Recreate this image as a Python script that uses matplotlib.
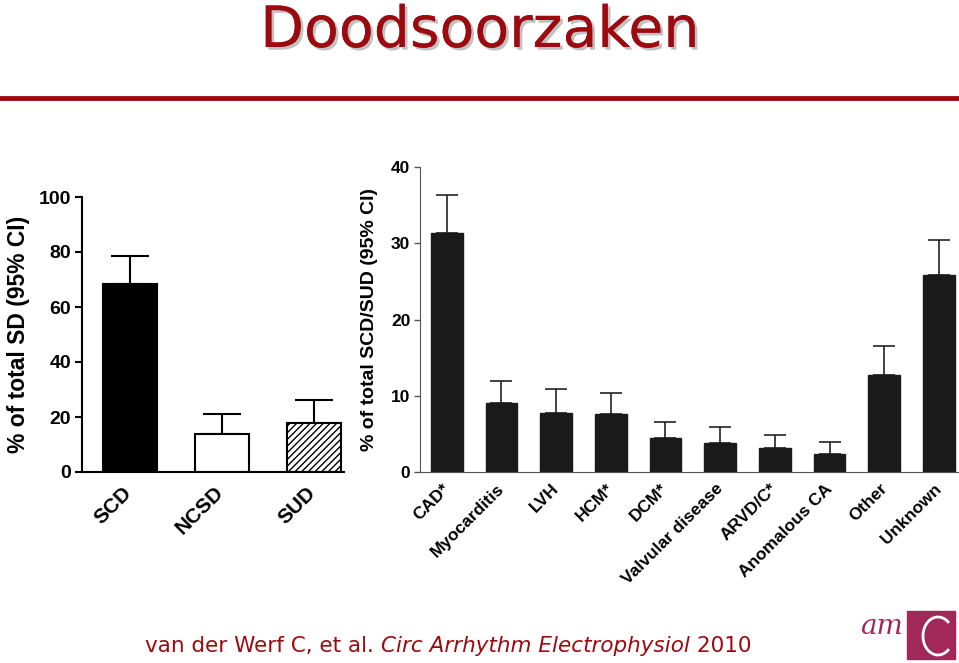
import matplotlib
matplotlib.use("Agg")
import matplotlib.pyplot as plt
import matplotlib.patheffects as pe
import matplotlib.transforms as mtransforms
from matplotlib.patches import Rectangle, Arc

# left panel: share of total sudden death
sd_labels = ["SCD", "NCSD", "SUD"]
sd_values = [68.4, 13.8, 18.0]
sd_upper = [78.4, 21.2, 26.3]

# right panel: causes of SCD/SUD
cause_labels = ["CAD*", "Myocarditis", "LVH", "HCM*", "DCM*", "Valvular disease",
                "ARVD/C*", "Anomalous CA", "Other", "Unknown"]
cause_values = [31.3, 9.1, 7.7, 7.6, 4.4, 3.85, 3.1, 2.4, 12.7, 25.8]
cause_upper = [36.3, 11.95, 10.9, 10.4, 6.6, 5.95, 4.9, 4.0, 16.5, 30.4]

red = "#9c0a0f"
W, H = 959, 663
fig = plt.figure(figsize=(W / 100, H / 100), dpi=100)

# title + rule
fig.text(480 / W, 1 - 47 / H, "Doodsoorzaken", ha="center", va="baseline",
         fontsize=41, color=red, family="DejaVu Sans",
         path_effects=[pe.withSimplePatchShadow(offset=(2, -2), shadow_rgbFace="#999999", alpha=0.6),
                       pe.Normal()])
fig.add_artist(plt.Line2D([0, 1], [1 - 98 / H, 1 - 98 / H], transform=fig.transFigure,
                          color=red, lw=3.5))

bold = dict(family="Liberation Sans", fontweight="bold")


def shift_labels(ax, dx, dy):
    # nudge rotated tick labels by dx, dy pixels
    off = mtransforms.ScaledTranslation(dx / 100, dy / 100, fig.dpi_scale_trans)
    for t in ax.get_xticklabels():
        t.set_transform(t.get_transform() + off)


# left chart
ax1 = fig.add_axes([82 / W, 1 - 472 / H, (344 - 82) / W, (472 - 197) / H])
x1 = range(len(sd_labels))
bars = ax1.bar(x1, sd_values, width=0.59, color=["black", "white", "white"],
               edgecolor="black", linewidth=1.5)
bars[2].set_hatch("/////")
ax1.errorbar(x1, sd_values, yerr=[[0] * 3, [u - v for u, v in zip(sd_upper, sd_values)]],
             fmt="none", ecolor="black", elinewidth=1.5, capsize=14, capthick=1.5, zorder=0)
ax1.set_xlim(-0.52, 2.33)
ax1.set_ylim(0, 100)
ax1.set_yticks([0, 20, 40, 60, 80, 100])
ax1.set_xticks(list(x1))
ax1.set_xticklabels(sd_labels, rotation=45, ha="right", rotation_mode="anchor", fontsize=15, **bold)
ax1.tick_params(axis="x", length=0, pad=10)
ax1.tick_params(axis="y", length=5, width=1.5, labelsize=14, pad=3)
for t in ax1.get_yticklabels():
    t.set_fontweight("bold")
    t.set_family("Liberation Sans")
for s in ["top", "right"]:
    ax1.spines[s].set_visible(False)
for s in ["left", "bottom"]:
    ax1.spines[s].set_linewidth(1.5)
ax1.set_ylabel("% of total SD (95% CI)", fontsize=16.5, labelpad=6, **bold)
shift_labels(ax1, -8, 3)

# right chart
ax2 = fig.add_axes([420 / W, 1 - 472 / H, (958 - 420) / W, (472 - 167) / H])
x2 = range(len(cause_labels))
ax2.bar(x2, cause_values, width=0.58, color="#1a1a1a", edgecolor="#1a1a1a")
ax2.errorbar(x2, cause_values,
             yerr=[[0] * len(x2), [u - v for u, v in zip(cause_upper, cause_values)]],
             fmt="none", ecolor="#222222", elinewidth=1.2, capsize=8, capthick=1.2, zorder=0)
ax2.set_xlim(-0.49, 9.35)
ax2.set_ylim(0, 40)
ax2.set_yticks([0, 10, 20, 30, 40])
ax2.set_xticks(list(x2))
ax2.set_xticklabels(cause_labels, rotation=45, ha="right", rotation_mode="anchor", fontsize=12.5, **bold)
ax2.tick_params(axis="x", length=0, pad=8)
ax2.tick_params(axis="y", length=4, width=1, color="#555555", labelsize=12.5, pad=3)
for t in ax2.get_yticklabels():
    t.set_fontweight("bold")
    t.set_family("Liberation Sans")
for s in ["top", "right"]:
    ax2.spines[s].set_visible(False)
for s in ["left", "bottom"]:
    ax2.spines[s].set_color("#555555")
ax2.set_ylabel("% of total SCD/SUD (95% CI)", fontsize=14, labelpad=9, **bold)
shift_labels(ax2, -5, 2)

# footer citation, pieces placed one after another
renderer = fig.canvas.get_renderer()
xpos = 145
for part, st in [("van der Werf C, et al. ", "normal"),
                 ("Circ Arrhythm Electrophysiol", "italic"),
                 (" 2010", "normal")]:
    t = fig.text(xpos / W, 1 - 646 / H, part, fontsize=15.5, color=red,
                 family="DejaVu Sans", style=st, va="center")
    xpos += t.get_window_extent(renderer).width

# logo
logo = "#a3285a"
fig.add_artist(Rectangle((907 / W, 1 - 659 / H), 48 / W, 48 / H, transform=fig.transFigure,
                         color=logo))
fig.add_artist(Arc((938 / W, 1 - 636 / H), 30 / W, 38 / H, theta1=60, theta2=300,
                   transform=fig.transFigure, color="white", lw=2))
fig.text(903 / W, 1 - 627 / H, "am", fontsize=20, color=logo, family="DejaVu Serif",
         style="italic", ha="right", va="center")

fig.savefig("out.png", dpi=100)
